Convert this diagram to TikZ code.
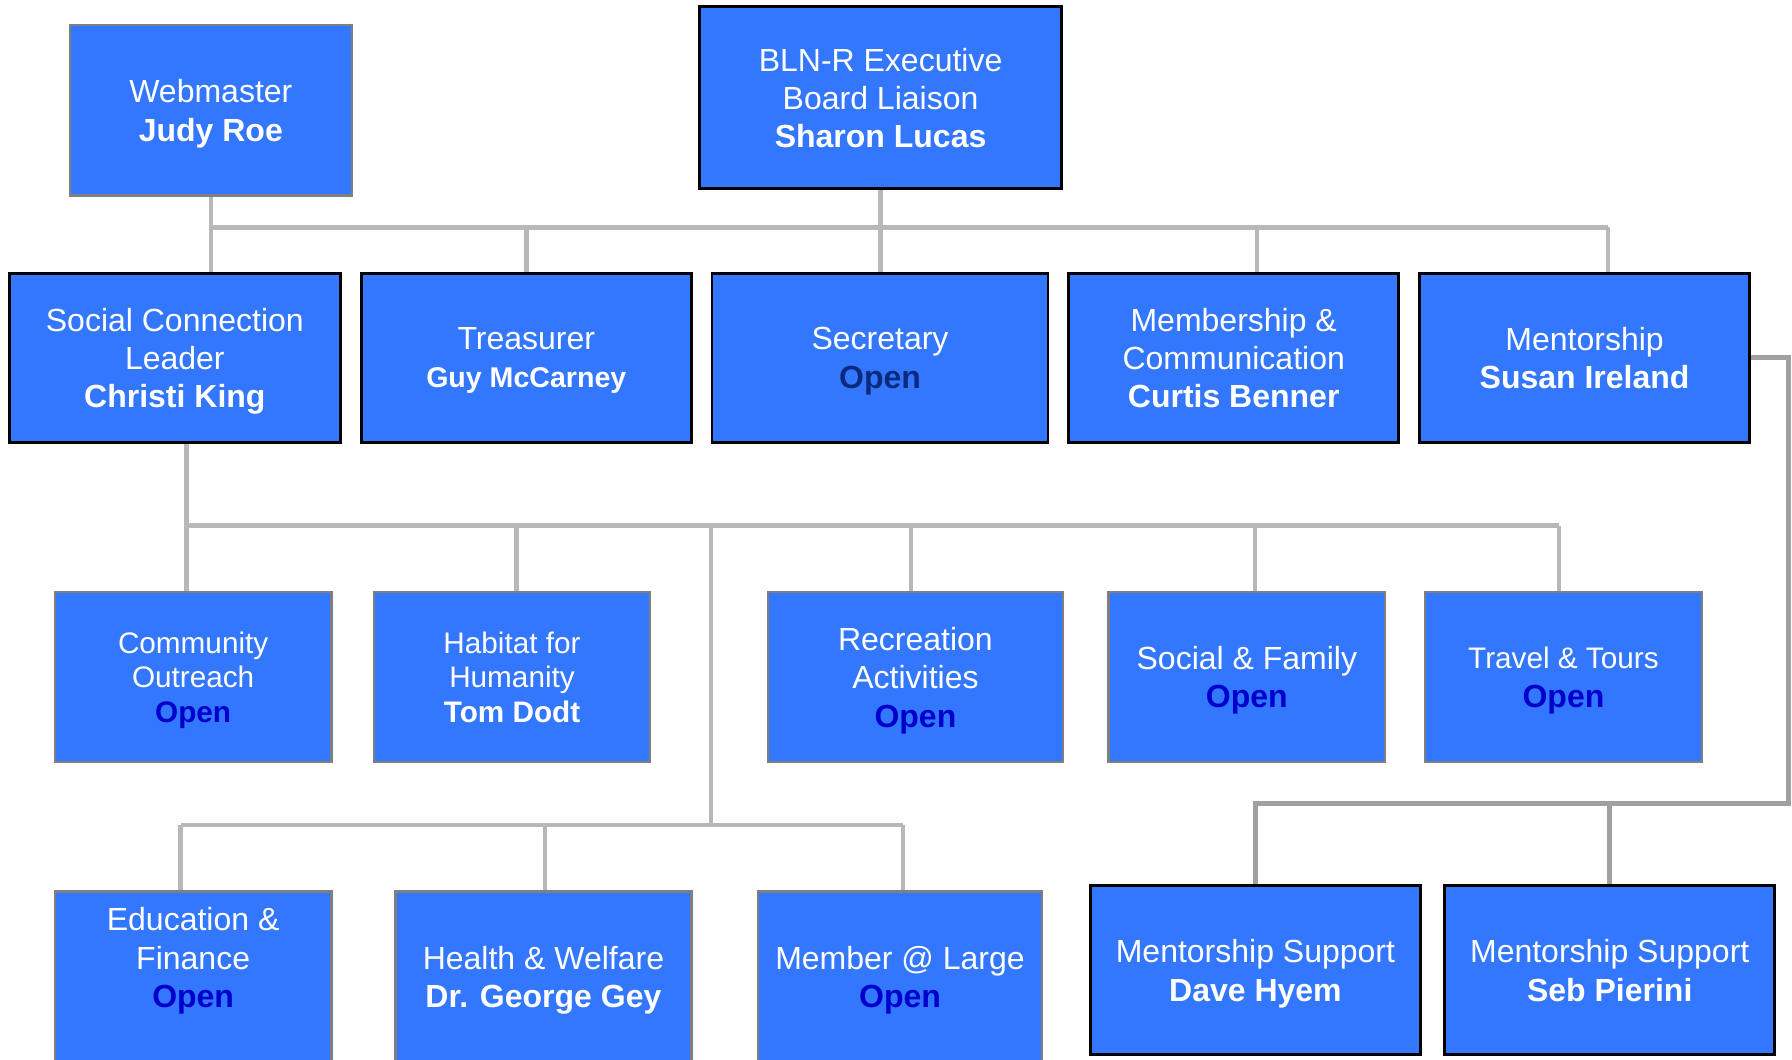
\documentclass[tikz,border=0pt]{standalone}
\usepackage{fontspec}
\setmainfont{Liberation Sans}
\usepackage{tikz}
\usetikzlibrary{backgrounds}
\definecolor{boxblue}{HTML}{3377FF}
\definecolor{openblue}{HTML}{0000CC}
\definecolor{opennavy}{HTML}{0A2A80}
\definecolor{linegray}{HTML}{B8B8B8}
\definecolor{mentgray}{HTML}{A0A0A0}
\definecolor{edgegray}{HTML}{7F7F7F}
\newcommand{\openrole}[1][openblue]{\textcolor{#1}{\textbf{Open}}}
\newcommand{\smallrole}{\fontsize{26}{30.5}\selectfont}

\begin{document}
\begin{tikzpicture}[x=1pt, y=-1pt,
	box/.style={rectangle, fill=boxblue, draw=black, line width=2.5pt, text=white, align=center,
		inner sep=0pt, outer sep=0pt, minimum width=289pt, minimum height=148pt, text depth=-2pt,
		font=\fontsize{28}{33.5}\selectfont},
	greybox/.style={box, draw=edgegray, line width=2pt, minimum width=242pt, minimum height=149pt},
	conn/.style={draw=linegray, line width=4pt},
	mentconn/.style={draw=mentgray, line width=4pt}]
	\useasboundingbox (0,0) rectangle (1568,927);
	\clip (0,0) rectangle (1568,927);

	\node[greybox, minimum width=247pt] (web) at (184.5,96.5) {Webmaster\\ \textbf{Judy Roe}};
	\node[box, minimum width=317pt, minimum height=159pt] (bln) at (770.5,85.5) {BLN-R Executive\\ Board Liaison\\ \textbf{Sharon Lucas}};

	\node[box, minimum width=290pt] (soc) at (153,313) {Social Connection\\ Leader\\ \textbf{Christi King}};
	\node[box] (tre) at (460.5,313) {Treasurer\\ {\fontsize{25}{32}\selectfont\textbf{Guy McCarney}}};
	\node[box, minimum width=294pt] (sec) at (770,313) {Secretary\\ \openrole[opennavy]};
	\node[box] (mem) at (1079.5,313) {Membership \&\\ Communication\\ \textbf{Curtis Benner}};
	\node[box] (men) at (1386.5,313) {Mentorship\\ \textbf{Susan Ireland}};

	\node[greybox, font=\smallrole] (com) at (169,592.5) {Community\\ Outreach\\ \openrole};
	\node[greybox, font=\smallrole] (hab) at (448,592.5) {Habitat for\\ Humanity\\ \textbf{Tom Dodt}};
	\node[greybox, minimum width=258pt] (rec) at (801,592.5) {Recreation\\ Activities\\ \openrole};
	\node[greybox] (fam) at (1091,592.5) {Social \& Family\\ \openrole};
	\node[greybox] (trv) at (1368,592.5) {{\fontsize{26}{33}\selectfont Travel \& Tours}\\ \openrole};

	\node[greybox] (edu) at (169,854.5) {Education \&\\ Finance\\ \openrole\\ \mbox{}};
	\node[greybox, minimum width=259pt] (hlt) at (475.5,854.5) {Health \& Welfare\\ \textbf{Dr. George Gey}};
	\node[greybox, minimum width=249pt] (mal) at (787.5,854.5) {Member @ Large\\ \openrole};
	\node[box] (dav) at (1098.5,849) {Mentorship Support\\ \textbf{Dave Hyem}};
	\node[box] (seb) at (1408.5,849) {Mentorship Support\\ \textbf{Seb Pierini}};

	\begin{scope}[on background layer]
		\coordinate (top) at (184.5,199);
		\coordinate (topr) at (1407,199);
		\coordinate (topm) at (1100,199);
		\coordinate (mid) at (163,460);
		\coordinate (midr) at (1364,460);
		\coordinate (midh) at (452,460);
		\coordinate (midc) at (797,460);
		\coordinate (midf) at (1098,460);
		\coordinate (trunk) at (622,460);
		\coordinate (low) at (622,722);
		\coordinate (lowl) at (158,722);
		\coordinate (lowh) at (477,722);
		\coordinate (lowr) at (790,722);
		\coordinate (ment) at (1565,703);

		\path[conn]
		(web.south) edge (web.south |- soc.north)
		(top) edge (topr)
		(topr) edge (topr |- men.north)
		(bln.south) edge (bln.south |- sec.north)
		(tre.north |- top) edge (tre.north)
		(topm) edge (topm |- mem.north)
		(mid |- soc.south) edge (mid |- com.north)
		(mid) edge (midr)
		(midr) edge (midr |- trv.north)
		(midh) edge (midh |- hab.north)
		(midc) edge (midc |- rec.north)
		(midf) edge (midf |- fam.north)
		(trunk) edge (low)
		(lowl) edge (lowr)
		(lowl) edge (lowl |- edu.north)
		(lowh) edge (lowh |- hlt.north)
		(lowr) edge (lowr |- mal.north);

		\draw[mentconn] (men.east) -| (ment) -| (dav.north);
		\draw[mentconn] (seb.north |- ment) -- (seb.north);
	\end{scope}
\end{tikzpicture}
\end{document}
